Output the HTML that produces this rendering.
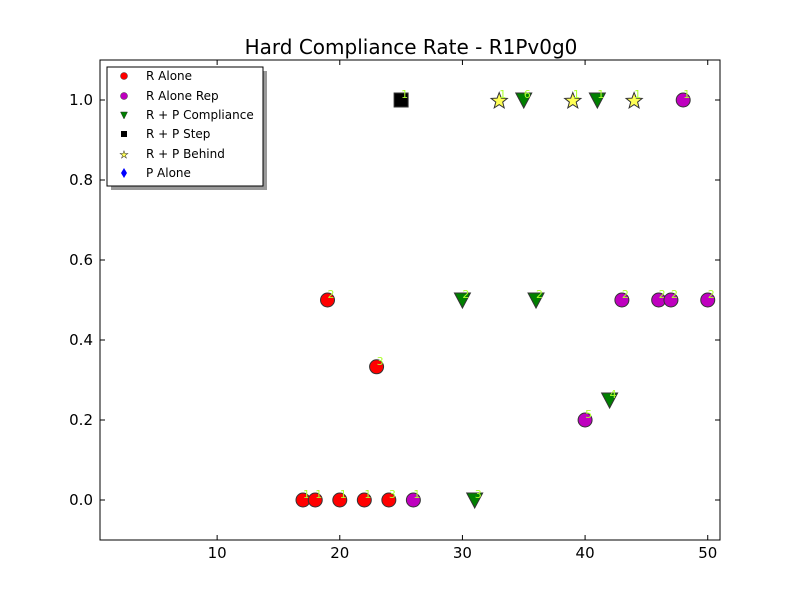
<!DOCTYPE html>
<html><head><meta charset="utf-8"><style>
body{margin:0;background:#fff}
svg{display:block;font-family:"DejaVu Sans","Liberation Sans",sans-serif}
</style></head><body>
<svg id="chart" width="800" height="600">
<rect width="800" height="600" fill="#fff"/>
<text x="411" y="54" text-anchor="middle" font-size="20">Hard Compliance Rate - R1Pv0g0</text>
<g id="ticks"></g>
<g id="marks"></g>
<rect x="100" y="60" width="620" height="480" fill="none" stroke="#000"/>
<g>
<rect x="111" y="71" width="156" height="119" fill="#999"/>
<rect x="107" y="67" width="156" height="119" fill="#fff" stroke="#000"/>
<g font-size="12">
<circle cx="124" cy="76" r="3.5" fill="#f00" stroke="#333" stroke-width="0.5"/><text x="146" y="80">R Alone</text>
<circle cx="124" cy="96" r="3.5" fill="#bf00bf" stroke="#333" stroke-width="0.5"/><text x="146" y="100">R Alone Rep</text>
<path d="M120.5,112 L127.5,112 L124,119 Z" fill="#008000" stroke="#333" stroke-width="0.5"/><text x="146" y="119">R + P Compliance</text>
<rect x="121" y="131" width="6" height="6" fill="#000"/><text x="146" y="138">R + P Step</text>
<text x="124" y="158" font-size="10" text-anchor="middle" fill="#ff5" stroke="#333" stroke-width="0.5">★</text><text x="146" y="158">R + P Behind</text>
<path d="M124,168 L127,173 L124,178 L121,173 Z" fill="#00f"/><text x="146" y="177">P Alone</text>
</g></g>
</svg>
<script>
const xTicks=[10,20,30,40,50];
const yTicks=[0.0,0.2,0.4,0.6,0.8,1.0];
const rAloneX=[17,18,20,22,24,19,23];
const rAloneY=[0,0,0,0,0,0.5,0.333];
const rAloneL=["1","1","1","1","3","2","3"];
const repX=[26,40,43,46,47,50,48];
const repY=[0,0.2,0.5,0.5,0.5,0.5,1];
const repL=["1","5","2","2","2","2","1"];
const compX=[31,30,36,42,35,41];
const compY=[0,0.5,0.5,0.25,1,1];
const compL=["3","2","2","4","6","1"];
const stepX=[25];
const stepY=[1];
const stepL=["1"];
const behindX=[33,39,44];
const behindY=[1,1,1];
const behindL=["1","1","1"];
const NS="http://www.w3.org/2000/svg";
const xs=v=>100+(v-0.45)*620/50.55;
const ys=v=>540-(v+0.1)*480/1.2;
const tg=document.getElementById('ticks'),mg=document.getElementById('marks');
function mk(tag,at,p){const e=document.createElementNS(NS,tag);for(const k in at)e.setAttribute(k,at[k]);p.appendChild(e);return e;}
xTicks.forEach(t=>{const x=xs(t);
 const l1=mk('line',{x1:x,x2:x,y1:540,y2:535,stroke:'#000'},tg);
 
 
 mk('line',{x1:x,x2:x,y1:60,y2:65,stroke:'#000'},tg);
 const tx=mk('text',{x:x,y:558,'text-anchor':'middle','font-size':15},tg);tx.textContent=t;
 
 
});
yTicks.forEach(t=>{const y=ys(t);
 const l1=mk('line',{x1:100,x2:105,y1:y,y2:y,stroke:'#000'},tg);
 
 
 mk('line',{x1:720,x2:715,y1:y,y2:y,stroke:'#000'},tg);
 const tx=mk('text',{x:93,y:y+5,'text-anchor':'end','font-size':15},tg);tx.textContent=t.toFixed(1);
 
 
});
function label(x,y,s){const t=mk('text',{x:x,y:y-2,'font-size':11,fill:'#adff2f'},mg);t.textContent=s;
 
 }
function series(X,Y,L,kind,name){X.forEach((v,i)=>{const x=xs(v),y=ys(Y[i]);let e;
 if(kind==='c1')e=mk('circle',{cx:x,cy:y,r:7,fill:'#f00',stroke:'#333'},mg);
 else if(kind==='c2')e=mk('circle',{cx:x,cy:y,r:7,fill:'#bf00bf',stroke:'#333'},mg);
 else if(kind==='t')e=mk('path',{d:`M${x-8},${y-7} L${x+8},${y-7} L${x},${y+8} Z`,fill:'#008000',stroke:'#333'},mg);
 else if(kind==='s')e=mk('rect',{x:x-7,y:y-7,width:14,height:14,fill:'#000',stroke:'#333'},mg);
 else{let p='';for(let k=0;k<10;k++){const r=k%2?3.6:8.5,a=-Math.PI/2+k*Math.PI/5;p+=(k?'L':'M')+(x+r*Math.cos(a)).toFixed(1)+','+(y+1+r*Math.sin(a)).toFixed(1);}
  e=mk('path',{d:p+'Z',fill:'#ffff55',stroke:'#333'},mg);}
 
 
 label(x,y,L[i]);});}
series(rAloneX,rAloneY,rAloneL,'c1','r-alone-point');
series(repX,repY,repL,'c2','r-alone-rep-point');
series(compX,compY,compL,'t','rp-compliance-point');
series(stepX,stepY,stepL,'s','rp-step-point');
series(behindX,behindY,behindL,'st','rp-behind-point');
</script>
</body></html>
